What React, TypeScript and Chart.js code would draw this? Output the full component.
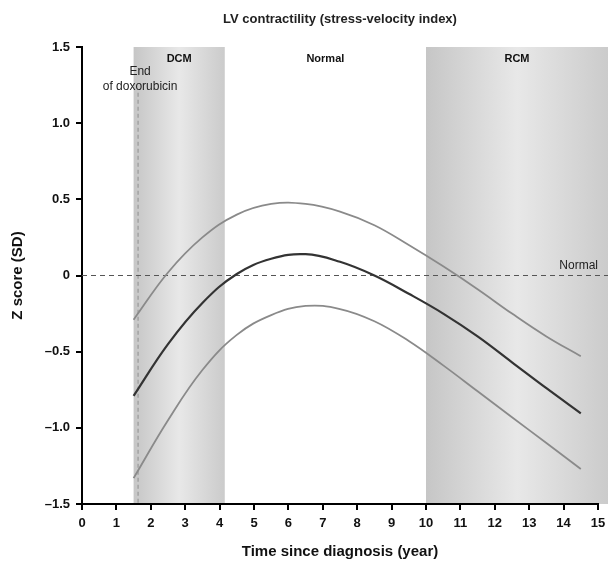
import React, { useEffect, useRef } from "react";
import { Chart, registerables } from "chart.js";

Chart.register(...registerables);

const TITLE = "LV contractility (stress-velocity index)";
const X_TITLE = "Time since diagnosis (year)";
const Y_TITLE = "Z score (SD)";

const YEARS = [1.5, 2.5, 3.5, 4.5, 5.5, 6.5, 7.5, 8.5, 9.5, 10.5, 11.5, 12.5, 13.5, 14.5];
const UPPER = [-0.29, 0.02, 0.25, 0.4, 0.47, 0.47, 0.42, 0.33, 0.2, 0.06, -0.09, -0.25, -0.4, -0.53];
const MIDDLE = [-0.79, -0.45, -0.18, 0.01, 0.11, 0.14, 0.09, 0.0, -0.12, -0.25, -0.4, -0.57, -0.74, -0.905];
const LOWER = [-1.33, -0.95, -0.62, -0.39, -0.26, -0.2, -0.22, -0.3, -0.43, -0.59, -0.76, -0.93, -1.1, -1.27];

const Y_TICK_VALUES = [-1.5, -1.0, -0.5, 0, 0.5, 1.0, 1.5];
const Y_TICK_LABELS = ["\u20131.5", "\u20131.0", "\u20130.5", "0", "0.5", "1.0", "1.5"];

// Phases
const PHASE_STARTS = [1.5, 4.15, 10];
const PHASE_ENDS = [4.15, 10, 15.3];
const PHASE_LABELS = ["DCM", "Normal", "RCM"];
const PHASE_SHADED = [true, false, true];

const DOXO_END = 1.63;
const DOXO_TOP = 1.2;
const DOXO_LABEL = ["End", "of doxorubicin"];
const NORMAL_LINE = 0;
const NORMAL_LABEL = "Normal";

const FONT = "'Liberation Sans', Arial, sans-serif";

const overlayPlugin = {
  id: "overlay",
  beforeDraw(chart: any) {
    const { ctx, chartArea, scales } = chart;
    const x = scales.x;
    const y = scales.y;
    const top = y.getPixelForValue(1.5);
    const bottom = chartArea.bottom;
    ctx.save();
    for (let i = 0; i < PHASE_STARTS.length; i++) {
      if (!PHASE_SHADED[i]) continue;
      const x0 = x.getPixelForValue(PHASE_STARTS[i]);
      const x1 = Math.min(x.getPixelForValue(PHASE_ENDS[i]), chart.width);
      const g = ctx.createLinearGradient(x0, 0, x1, 0);
      g.addColorStop(0, "#c6c6c6");
      g.addColorStop(0.5, "#e8e8e8");
      g.addColorStop(1, "#cbcbcb");
      ctx.fillStyle = g;
      ctx.fillRect(x0, top, x1 - x0, bottom - top);
    }
    ctx.restore();
  },
  beforeDatasetsDraw(chart: any) {
    const { ctx, chartArea, scales } = chart;
    const x = scales.x;
    const y = scales.y;
    const top = y.getPixelForValue(1.5);
    const bottom = chartArea.bottom;
    ctx.save();
    for (let i = 0; i < PHASE_STARTS.length; i++) {
      const x0 = x.getPixelForValue(PHASE_STARTS[i]);
      const x1 = Math.min(x.getPixelForValue(PHASE_ENDS[i]), chart.width);
      ctx.fillStyle = "#111";
      ctx.font = `bold 11px ${FONT}`;
      ctx.textAlign = "center";
      ctx.textBaseline = "middle";
      ctx.fillText(PHASE_LABELS[i], (x0 + x1) / 2, top + 12);
    }
    const dx = x.getPixelForValue(DOXO_END);
    ctx.strokeStyle = "#999";
    ctx.lineWidth = 1.2;
    ctx.setLineDash([4, 3]);
    ctx.beginPath();
    ctx.moveTo(dx, y.getPixelForValue(DOXO_TOP));
    ctx.lineTo(dx, bottom - 1);
    ctx.stroke();
    ctx.fillStyle = "#222";
    ctx.font = `12px ${FONT}`;
    ctx.textAlign = "center";
    ctx.fillText(DOXO_LABEL[0], dx + 2, top + 25);
    ctx.fillText(DOXO_LABEL[1], dx + 2, top + 40);
    const zy = y.getPixelForValue(NORMAL_LINE);
    ctx.strokeStyle = "#555";
    ctx.lineWidth = 1.2;
    ctx.setLineDash([5, 4]);
    ctx.beginPath();
    ctx.moveTo(chartArea.left, zy);
    ctx.lineTo(chart.width, zy);
    ctx.stroke();
    ctx.setLineDash([]);
    ctx.textAlign = "right";
    ctx.textBaseline = "middle";
    ctx.fillText(NORMAL_LABEL, x.getPixelForValue(15), zy - 10);
    ctx.fillStyle = "#222";
    ctx.font = `bold 13px ${FONT}`;
    ctx.textAlign = "center";
    ctx.fillText(TITLE, (chartArea.left + chartArea.right) / 2, 19);
    ctx.restore();
  },
};

export default function App() {
  const ref = useRef<HTMLCanvasElement>(null);
  useEffect(() => {
    const mk = (vals: number[]) => YEARS.map((v, i) => ({ x: v, y: vals[i] }));
    const chart = new Chart(ref.current!, {
      type: "line",
      data: {
        datasets: [
          { data: mk(UPPER), borderColor: "#8a8a8a", borderWidth: 1.8, pointRadius: 0, tension: 0.4 },
          { data: mk(MIDDLE), borderColor: "#333", borderWidth: 2.2, pointRadius: 0, tension: 0.4 },
          { data: mk(LOWER), borderColor: "#8a8a8a", borderWidth: 1.8, pointRadius: 0, tension: 0.4 },
        ],
      },
      options: {
        responsive: false,
        animation: false,
        layout: { padding: { top: 47, right: 10, bottom: 0, left: 0 } },
        plugins: { legend: { display: false }, tooltip: { enabled: false }, title: { display: false } },
        scales: {
          x: {
            type: "linear",
            min: 0,
            max: 15,
            afterFit: (s: any) => {
              s.height = 62;
              s.paddingLeft = 0;
              s.paddingRight = 0;
            },
            ticks: { stepSize: 1, color: "#111", font: { family: FONT, size: 13, weight: "bold" }, padding: 6, maxRotation: 0, autoSkip: false },
            grid: { drawOnChartArea: false, drawTicks: true, tickLength: 6, color: "#000", lineWidth: 2 },
            border: { color: "#000", width: 2 },
            title: { display: true, text: X_TITLE, color: "#111", font: { family: FONT, size: 15, weight: "bold" }, padding: { top: 0, bottom: 5 } },
          },
          y: {
            type: "linear",
            min: -1.5,
            max: 1.5,
            afterFit: (s: any) => {
              s.width = 82;
              s.paddingTop = 0;
              s.paddingBottom = 0;
            },
            afterBuildTicks: (s: any) => {
              s.ticks = Y_TICK_VALUES.map((v) => ({ value: v }));
            },
            ticks: {
              color: "#111",
              font: { family: FONT, size: 13, weight: "bold" },
              padding: 6,
              callback: (v: any) => {
                const i = Y_TICK_VALUES.findIndex((t) => Math.abs(t - Number(v)) < 1e-6);
                return i >= 0 ? Y_TICK_LABELS[i] : "";
              },
            },
            grid: { drawOnChartArea: false, drawTicks: true, tickLength: 6, color: "#000", lineWidth: 2 },
            border: { color: "#000", width: 2 },
            title: { display: true, text: Y_TITLE, color: "#111", font: { family: FONT, size: 15, weight: "bold" }, padding: { top: 9, bottom: 0 } },
          },
        },
      },
      plugins: [overlayPlugin],
    } as any);
    return () => chart.destroy();
  }, []);
  return (
    <div style={{ position: "fixed", left: 0, top: 0, width: 608, height: 566, background: "#fff" }}>
      <canvas ref={ref} width={608} height={566} style={{ display: "block" }} />
    </div>
  );
}
